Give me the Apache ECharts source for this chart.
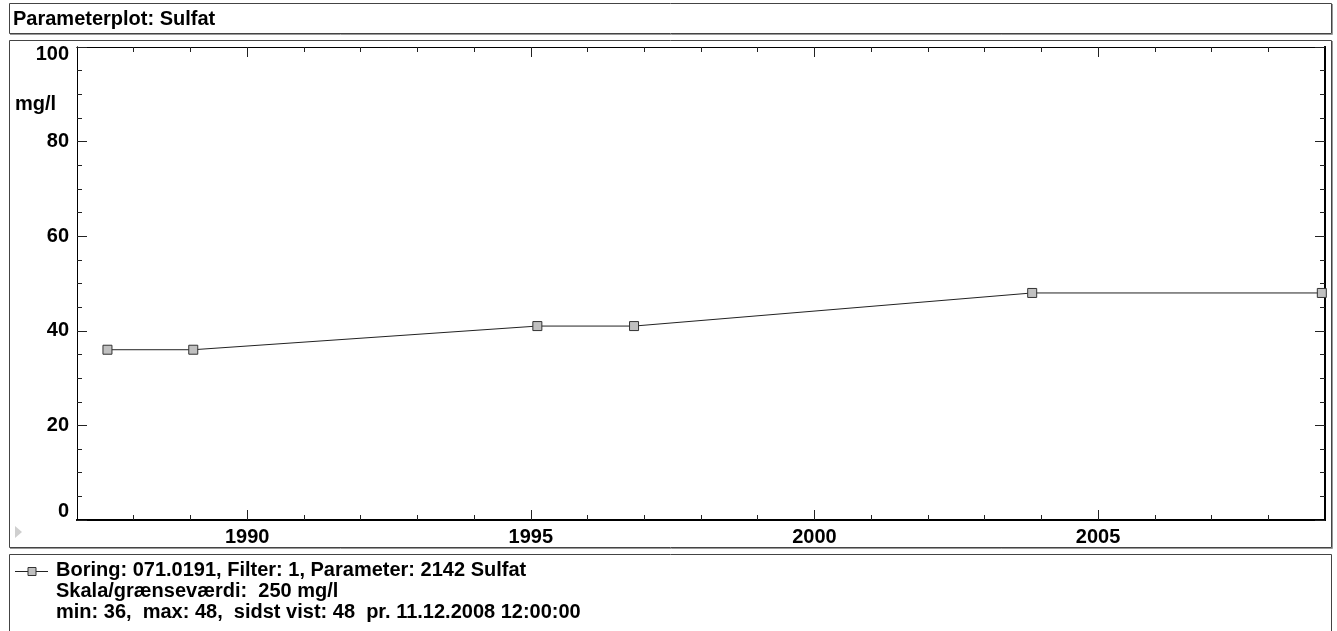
<!DOCTYPE html>
<html>
<head>
<meta charset="utf-8">
<script src="https://cdn.jsdelivr.net/npm/echarts@6/dist/echarts.min.js"></script>
<style>
html,body{margin:0;padding:0;background:#fff;}
#chart{width:1337px;height:631px;}
</style>
</head>
<body>
<div id="chart"></div>
<script>
// ---- data ----
var sampleDates = ['1987-07-16', '1989-01-19', '1995-02-12', '1996-10-27', '2003-11-03', '2008-12-11T12:00:00'];
var sulfatValues = [36, 36, 41, 41, 48, 48];
var majorYears = [1990, 1995, 2000, 2005];
var minorYears = [1988, 1989, 1990, 1991, 1992, 1993, 1994, 1995, 1996, 1997, 1998, 1999, 2000, 2001, 2002, 2003, 2004, 2005, 2006, 2007, 2008];
var titleText = 'Parameterplot: Sulfat';
var unitText = 'mg/l';
var legendLines = [
  'Boring: 071.0191, Filter: 1, Parameter: 2142 Sulfat',
  'Skala/grænseværdi:  250 mg/l',
  'min: 36,  max: 48,  sidst vist: 48  pr. 11.12.2008 12:00:00'
];

function toDecimalYear(s) {
  var d = new Date(s + (s.indexOf('T') < 0 ? 'T00:00:00Z' : 'Z'));
  var y = d.getUTCFullYear();
  var a = Date.UTC(y, 0, 1), b = Date.UTC(y + 1, 0, 1);
  return y + (d.getTime() - a) / (b - a);
}
var seriesData = sampleDates.map(function (s, i) { return [toDecimalYear(s), sulfatValues[i]]; });

var FONT = 'Liberation Sans, Arial, sans-serif';
var FS = 20;
var XMIN = 1987, XMAX = 2009;

function xAx(pos, major, labels, lw) {
  return {
    type: 'value', position: pos, min: XMIN, max: XMAX, gridIndex: 0,
    axisLine: { show: true, onZero: false, lineStyle: { color: '#000', width: lw } },
    axisTick: { show: true, inside: true, length: major ? 10 : 5, customValues: major ? majorYears : minorYears, lineStyle: { color: '#222', width: 1 } },
    axisLabel: labels ? { show: true, customValues: majorYears, margin: 7, color: '#000', fontFamily: FONT, fontWeight: 'bold', fontSize: FS, formatter: function (v) { return String(v); } } : { show: false },
    splitLine: { show: false }
  };
}
function yAx(pos, major, labels, lw) {
  return {
    type: 'value', position: pos, min: 0, max: 100, interval: major ? 20 : 5, gridIndex: 0,
    axisLine: { show: true, onZero: false, lineStyle: { color: '#000', width: lw } },
    axisTick: { show: true, inside: true, length: major ? 10 : 5, lineStyle: { color: '#222', width: 1 } },
    axisLabel: labels ? {
      show: true, margin: 8, color: '#000', fontFamily: FONT, fontWeight: 'bold', fontSize: FS,
      formatter: function (v) {
        if (v === 100) return '{t|100}';
        if (v === 0) return '{b|0}';
        return String(v);
      },
      rich: {
        t: { fontFamily: FONT, fontWeight: 'bold', fontSize: FS, color: '#000', padding: [14, 0, 0, 0] },
        b: { fontFamily: FONT, fontWeight: 'bold', fontSize: FS, color: '#000', padding: [0, 0, 18, 0] }
      }
    } : { show: false },
    splitLine: { show: false }
  };
}

var graphics = [
  // title frame
  { type: 'rect', shape: { x: 9.5, y: 3.5, width: 1322, height: 30 }, style: { fill: '#fff', stroke: '#444', lineWidth: 1 }, z: -10 },
  { type: 'polyline', shape: { points: [[1332.5, 4], [1332.5, 34.5], [10, 34.5]] }, style: { stroke: '#999', lineWidth: 1, fill: null }, z: -10 },
  { type: 'text', x: 13, y: 19, style: { text: titleText, font: 'bold ' + FS + 'px ' + FONT, fill: '#000', verticalAlign: 'middle' } },
  // chart frame
  { type: 'rect', shape: { x: 9.5, y: 40.5, width: 1322, height: 507 }, style: { fill: '#fff', stroke: '#444', lineWidth: 1 }, z: -10 },
  { type: 'polyline', shape: { points: [[1332.5, 41], [1332.5, 548.5], [10, 548.5]] }, style: { stroke: '#999', lineWidth: 1, fill: null }, z: -10 },
  { type: 'text', x: 15, y: 104, style: { text: unitText, font: 'bold ' + FS + 'px ' + FONT, fill: '#000', verticalAlign: 'middle' } },
  { type: 'polygon', shape: { points: [[15, 526], [22, 532], [15, 538]] }, style: { fill: '#cfcfcf' } },
  // legend frame
  { type: 'rect', shape: { x: 9.5, y: 554.5, width: 1322, height: 100 }, style: { fill: '#fff', stroke: '#444', lineWidth: 1 }, z: -10 },
  { type: 'line', shape: { x1: 15, y1: 571.5, x2: 48, y2: 571.5 }, style: { stroke: '#222', lineWidth: 1 } },
  { type: 'rect', shape: { x: 28, y: 567.5, width: 8, height: 8 }, style: { fill: '#c0c0c0', stroke: '#333', lineWidth: 1 } }
];
legendLines.forEach(function (t, i) {
  graphics.push({ type: 'text', x: 56, y: 570 + i * 21, style: { text: t, font: 'bold ' + FS + 'px ' + FONT, fill: '#000', verticalAlign: 'middle' } });
});

var chart = echarts.init(document.getElementById('chart'), null, { renderer: 'canvas' });
chart.setOption({
  animation: false,
  backgroundColor: '#fff',
  grid: { left: 77, top: 47, right: 12, bottom: 111, containLabel: false },
  xAxis: [xAx('bottom', true, true, 2), xAx('bottom', false, false, 2), xAx('top', true, false, 1), xAx('top', false, false, 1)],
  yAxis: [yAx('left', true, true, 1), yAx('left', false, false, 1), yAx('right', true, false, 2), yAx('right', false, false, 2)],
  graphic: graphics,
  series: [{
    type: 'line', xAxisIndex: 0, yAxisIndex: 0, data: seriesData,
    symbol: 'rect', symbolSize: 9,
    lineStyle: { color: '#222', width: 1 },
    itemStyle: { color: '#c0c0c0', borderColor: '#333', borderWidth: 1 },
    clip: true, z: 5
  }]
});
</script>
</body>
</html>
